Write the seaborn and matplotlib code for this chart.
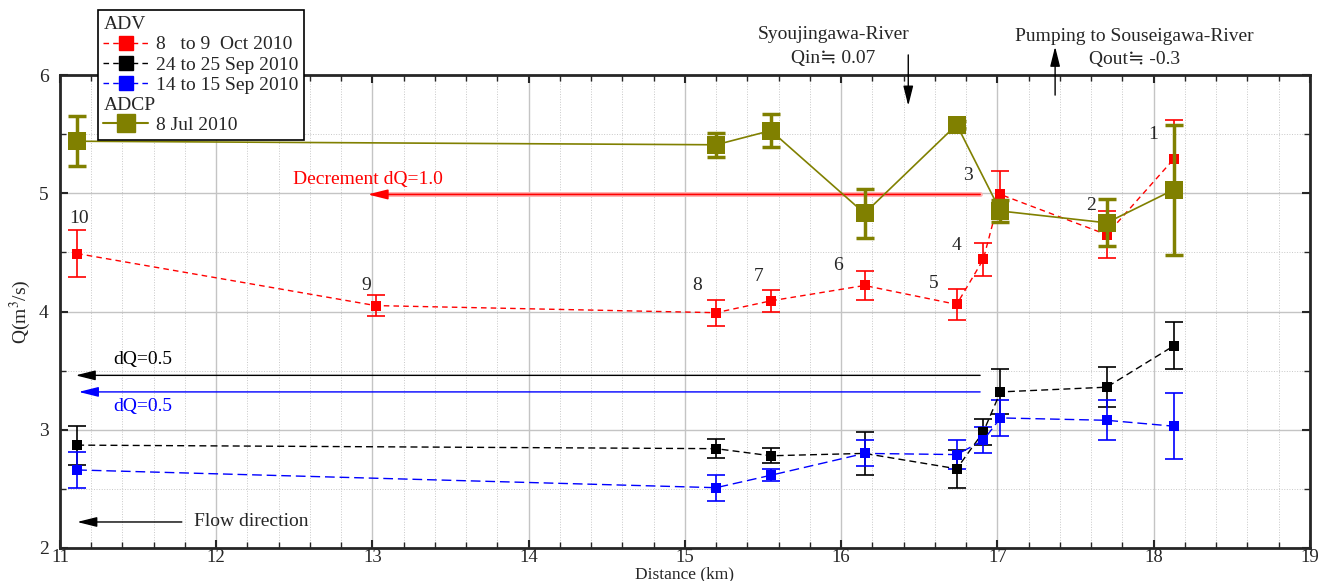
import numpy as np
import pandas as pd
import matplotlib
matplotlib.use("Agg")
import matplotlib.pyplot as plt
from matplotlib.lines import Line2D
from matplotlib.ticker import MultipleLocator
import seaborn as sns

# Data
dist_adv = [11.11, 13.02, 15.2, 15.55, 16.15, 16.74, 16.91, 17.02, 17.7, 18.13]
q_oct = [4.49, 4.05, 3.99, 4.09, 4.22, 4.06, 4.44, 4.99, 4.65, 5.29]
err_oct = [0.2, 0.09, 0.11, 0.095, 0.12, 0.13, 0.14, 0.2, 0.2, 0.33]

dist_sep = [11.11, 15.2, 15.55, 16.15, 16.74, 16.91, 17.02, 17.7, 18.13]
q_sep24 = [2.87, 2.84, 2.78, 2.80, 2.67, 2.98, 3.32, 3.36, 3.71]
err_sep24 = [0.165, 0.08, 0.065, 0.18, 0.16, 0.11, 0.19, 0.17, 0.2]
q_sep14 = [2.66, 2.51, 2.615, 2.80, 2.79, 2.91, 3.10, 3.08, 3.03]
err_sep14 = [0.155, 0.11, 0.05, 0.11, 0.12, 0.11, 0.15, 0.17, 0.28]

dist_adcp = [11.11, 15.2, 15.55, 16.15, 16.74, 17.02, 17.7, 18.13]
q_adcp = [5.44, 5.41, 5.53, 4.83, 5.58, 4.85, 4.75, 5.03]
err_adcp = [0.21, 0.1, 0.14, 0.21, 0.03, 0.09, 0.2, 0.55]

point_ids = ["10", "9", "8", "7", "6", "5", "4", "3", "2", "1"]
label_x = [11.12, 12.96, 15.08, 15.47, 15.98, 16.59, 16.74, 16.81, 17.6, 18.0]
label_y = [4.79, 4.22, 4.22, 4.30, 4.39, 4.24, 4.56, 5.15, 4.90, 5.50]

sns.set_style("ticks")
plt.rcParams['font.family'] = ['Liberation Serif', 'DejaVu Serif', 'DejaVu Sans']
plt.rcParams['mathtext.fontset'] = 'stix'

fig = plt.figure(figsize=(13.27, 5.81), dpi=100)
ax = fig.add_axes([0.0452, 0.0568, 0.9418, 0.8141])

RED, BLK, BLU, OLV = "#ff0000", "#000000", "#0000ff", "#808000"

series = [
    (dist_adv, q_oct, err_oct, RED, (4, 3)),
    (dist_sep, q_sep24, err_sep24, BLK, (5, 3)),
    (dist_sep, q_sep14, err_sep14, BLU, (7, 3.5)),
]
for xs, ys, es, col, dsh in series:
    df = pd.DataFrame({"x": xs, "y": ys})
    sns.lineplot(data=df, x="x", y="y", ax=ax, color=col, lw=1.0,
                 marker="s", markersize=7.5, markeredgewidth=0,
                 dashes=False, linestyle=(0, dsh), zorder=4)
    ax.errorbar(xs, ys, yerr=es, fmt="none", ecolor=col, elinewidth=1.2,
                capsize=6.5, capthick=1.2, zorder=3)

df_adcp = pd.DataFrame({"x": dist_adcp, "y": q_adcp})
sns.lineplot(data=df_adcp, x="x", y="y", ax=ax, color=OLV, lw=1.2,
             marker="s", markersize=13, markeredgewidth=0, zorder=6)
ax.errorbar(dist_adcp, q_adcp, yerr=err_adcp, fmt="none", ecolor=OLV,
            elinewidth=2.5, capsize=6.5, capthick=2.5, zorder=5)

# point numbers
for t, lx, ly in zip(point_ids, label_x, label_y):
    ax.text(lx, ly, t, fontsize=14, ha="center", va="center", zorder=7)

# dQ arrows
arw = dict(arrowstyle="-|>,head_length=1.2,head_width=0.3", lw=1.0, shrinkA=0, shrinkB=0)
ax.plot([13.05, 16.89], [4.99, 4.99], color="#ffb0b0", lw=3.5, zorder=2)
ax.annotate("", xy=(12.97, 4.99), xytext=(16.89, 4.99),
            arrowprops=dict(arw, color=RED, lw=1.2))
ax.text(12.97, 5.12, "Decrement dQ=1.0", color=RED, fontsize=14, ha="center", va="center")
ax.annotate("", xy=(11.1, 3.46), xytext=(16.89, 3.46),
            arrowprops=dict(arw, color=BLK))
ax.text(11.34, 3.59, "dQ=0.5", color=BLK, fontsize=14, ha="left", va="center")
ax.annotate("", xy=(11.12, 3.32), xytext=(16.89, 3.32),
            arrowprops=dict(arw, color=BLU))
ax.text(11.34, 3.2, "dQ=0.5", color=BLU, fontsize=14, ha="left", va="center")
ax.annotate("", xy=(11.11, 2.22), xytext=(11.78, 2.22),
            arrowprops=dict(arw, color=BLK))
ax.text(11.86, 2.22, "Flow direction", fontsize=14, ha="left", va="center")

# river inflow / outflow
ax.annotate("", xy=(16.43, 5.74), xytext=(16.43, 6.17), annotation_clip=False,
            arrowprops=dict(arw, color=BLK))
ax.text(15.95, 6.24, "Syoujingawa-River\nQin≒ 0.07", fontsize=14,
        ha="center", va="center", linespacing=1.5)
ax.annotate("", xy=(17.37, 6.24), xytext=(17.37, 5.83), annotation_clip=False,
            arrowprops=dict(arw, color=BLK))
ax.text(17.88, 6.23, "Pumping to Souseigawa-River\nQout≒ -0.3", fontsize=14,
        ha="center", va="center", linespacing=1.5)

ax.set_xlim(11, 19)
ax.set_ylim(2, 6)
ax.xaxis.set_major_locator(MultipleLocator(1))
ax.xaxis.set_minor_locator(MultipleLocator(0.2))
ax.yaxis.set_major_locator(MultipleLocator(1))
ax.yaxis.set_minor_locator(MultipleLocator(0.5))
ax.grid(which="major", color="#c4c4c4", lw=1.0)
ax.grid(which="minor", color="#c8c8c8", lw=0.7, ls=":")
ax.set_axisbelow(True)
ax.tick_params(which="both", direction="in", top=True, right=True, labelsize=14)
ax.tick_params(which="major", length=6, width=1.5)
ax.tick_params(which="minor", length=4, width=1.0)
ax.tick_params(axis="x", which="major", pad=1, labelsize=13.5)
ax.tick_params(axis="y", which="major", pad=8)
for s in ax.spines.values():
    s.set_linewidth(2)
ax.set_xlabel("Distance (km)", fontsize=12.5, labelpad=0)
ax.set_ylabel("Q(m$^3$/s)", fontsize=14, labelpad=4)

# legend with section headers
blank = Line2D([], [], ls="none")
handles = [
    blank,
    Line2D([], [], color=RED, ls=(0, (4, 3)), marker="s", markersize=10, lw=1),
    Line2D([], [], color=BLK, ls=(0, (4, 3)), marker="s", markersize=10, lw=1),
    Line2D([], [], color=BLU, ls=(0, (4, 3)), marker="s", markersize=10, lw=1),
    blank,
    Line2D([], [], color=OLV, ls="-", marker="s", markersize=13, lw=1.5),
]
labels = ["ADV", "8   to 9  Oct 2010", "24 to 25 Sep 2010", "14 to 15 Sep 2010",
          "ADCP", "8 Jul 2010"]
leg = fig.legend(handles, labels, loc="upper left", bbox_to_anchor=(0.0735, 0.983),
                 fontsize=14, frameon=True, fancybox=False, edgecolor="black",
                 handlelength=2.3, handletextpad=0.4, labelspacing=0.13,
                 borderpad=0.3, borderaxespad=0)
leg.get_frame().set_linewidth(1.2)
leg.get_frame().set_alpha(1)
fs_px = 14 * fig.dpi / 72
for t in leg.get_texts():
    if t.get_text() in ("ADV", "ADCP"):
        t.set_position((-(2.3 + 0.4) * fs_px, 0))

fig.savefig("out.png", dpi=100)
